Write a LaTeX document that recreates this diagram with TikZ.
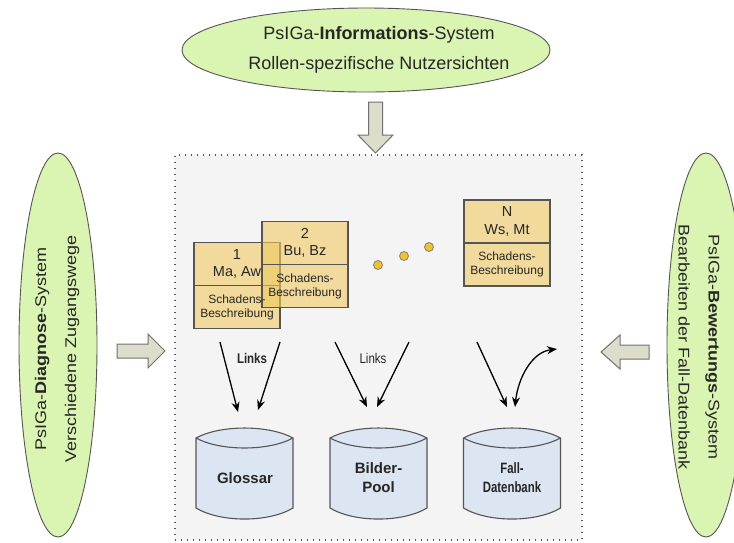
\documentclass[tikz,border=0pt]{standalone}
\usepackage{fontspec}
\setmainfont{Liberation Sans}
\usetikzlibrary{arrows.meta,shapes.geometric}

\definecolor{sysgreen}{HTML}{DAF5B2}
\definecolor{edgegray}{HTML}{555555}
\definecolor{blockfill}{HTML}{DDDDCB}
\definecolor{blockedge}{HTML}{707070}
\definecolor{panelfill}{HTML}{F4F4F4}
\definecolor{cardfill}{HTML}{F0CA60}
\definecolor{dotfill}{HTML}{F2C12E}
\definecolor{drumfill}{HTML}{DCE6F2}
\definecolor{textdark}{HTML}{262626}

% flatten a line of rotated text a little
\newcommand\flatline[1]{\scalebox{1}[0.86]{#1}}

\begin{document}
\begin{tikzpicture}[x=1pt,y=-1pt,
  panel/.style={draw=edgegray, fill=panelfill, line width=1.1pt,
    dash pattern=on 1.1pt off 4.9pt, minimum width=407, minimum height=385,
    inner sep=0pt},
  sysellipse/.style={ellipse, draw=edgegray, fill=sysgreen, line width=0.9pt,
    inner sep=0pt},
  systext/.style={align=center, text=textdark, inner sep=0pt,
    font=\fontsize{18}{30}\selectfont},
  blockarrow/.style={draw=blockedge, fill=blockfill, line width=1pt,
    line join=miter},
  card/.style={draw=edgegray, fill=cardfill, fill opacity=0.6,
    line width=1.1pt, minimum width=86, minimum height=86, inner sep=0pt},
  cardtop/.style={align=center, text=textdark, inner sep=0pt,
    font=\fontsize{14.5}{17.5}\selectfont},
  cardlow/.style={align=center, text=textdark, inner sep=0pt,
    font=\fontsize{12}{14}\selectfont},
  dotmark/.style={circle, draw=gray, fill=dotfill, line width=0.8pt,
    minimum size=9, inner sep=0pt},
  linkarrow/.style={line width=1.3pt, -{Stealth[length=10pt,width=8pt]}},
  linklabel/.style={text=textdark, inner sep=0pt},
  drumtext/.style={align=center, text=textdark, inner sep=0pt,
    font=\fontsize{15}{19}\selectfont\bfseries},
  drum/.pic={
    \path[draw=edgegray, fill=drumfill, line width=1.1pt]
      (-48.5,0) .. controls (-24,-13.3) and (24,-13.3) .. (48.5,0)
      -- (48.5,70) .. controls (24,84.7) and (-24,84.7) .. (-48.5,70) -- cycle;
    \draw[edgegray, line width=1.1pt]
      (-48.5,0) .. controls (-24,13.3) and (24,13.3) .. (48.5,0);
  }]

\useasboundingbox (0,0) rectangle (734,542);

% central dotted panel
\node[panel] (panel) at (378.5,347.5) {};

% the three surrounding systems
\node[sysellipse, minimum width=368, minimum height=84] (info) at (366,50) {};
\node[systext] (infotext) at (379,50)
  {PsIGa-\textbf{Informations}-System\\Rollen-spezifische Nutzersichten};

\node[sysellipse, minimum width=78, minimum height=384] (diag) at (58,345) {};
\node[systext, rotate=90] (diagtext) at (57,349)
  {\flatline{PsIGa-\textbf{Diagnose}-System}\\\flatline{Verschiedene Zugangswege}};

\node[sysellipse, minimum width=78, minimum height=384] (bew) at (706,345) {};
\node[systext, rotate=-90] (bewtext) at (699,347)
  {\flatline{PsIGa-\textbf{Bewertungs}-System}\\\flatline{Bearbeiten der Fall-Datenbank}};

% block arrows into the panel
\draw[blockarrow] (368.5,102) -- (382.5,102) -- (382.5,135) -- (393,135)
  -- (375.5,153) -- (358,135) -- (368.5,135) -- cycle;
\draw[blockarrow] (117,344) -- (148,344) -- (148,334) -- (165,351)
  -- (148,368) -- (148,358) -- (117,358) -- cycle;
\draw[blockarrow] (649,345) -- (620,345) -- (620,335) -- (601,352)
  -- (620,369) -- (620,359) -- (649,359) -- cycle;

% case cards
\node[card] (card1) at (237,285.5) {};
\draw[edgegray, line width=1.1pt] (card1.west) -- (card1.east);
\node[card] (card2) at (305,264.5) {};
\draw[edgegray, line width=1.1pt] (card2.west) -- (card2.east);
\node[card] (cardN) at (507,243) {};
\draw[edgegray, line width=1.1pt] (cardN.west) -- (cardN.east);

\node[cardtop] (card1top) at (237,264) {1\\Ma, Aw};
\node[cardlow] (card1low) at (237,307) {Schadens-\\Beschreibung};
\node[cardtop] (card2top) at (305,243) {2\\Bu, Bz};
\node[cardlow] (card2low) at (305,286) {Schadens-\\Beschreibung};
\node[cardtop] (cardNtop) at (507,221.5) {N\\Ws, Mt};
\node[cardlow] (cardNlow) at (507,264.5) {Schadens-\\Beschreibung};

% ellipsis dots between the cards
\node[dotmark] (dot1) at (378,265) {};
\node[dotmark] (dot2) at (404,256) {};
\node[dotmark] (dot3) at (429,247) {};

% link arrows
\coordinate (g1s) at (220,342);  \coordinate (g1e) at (238,412);
\coordinate (g2s) at (280,342);  \coordinate (g2e) at (258,410);
\coordinate (b1s) at (335,342);  \coordinate (b1e) at (367,407);
\coordinate (b2s) at (409,342);  \coordinate (b2e) at (377,407);
\coordinate (f1s) at (477,342);  \coordinate (f1e) at (507,407);
\coordinate (f2a) at (515,407);  \coordinate (f2b) at (557,349);

\draw[linkarrow] (g1s) -- (g1e);
\draw[linkarrow] (g2s) -- (g2e);
\draw[linkarrow] (b1s) -- (b1e);
\draw[linkarrow] (b2s) -- (b2e);
\draw[linkarrow] (f1s) -- (f1e);
\draw[line width=1.3pt, {Stealth[length=10pt,width=8pt]}-{Stealth[length=10pt,width=8pt]}]
  (f2a) .. controls (518,378) and (532,352) .. (f2b);

\node[linklabel] (links1) at (252,358)
  {\scalebox{0.82}[1]{\fontsize{14}{14}\selectfont\bfseries Links}};
\node[linklabel] (links2) at (373,358)
  {\scalebox{0.82}[1]{\fontsize{14}{14}\selectfont Links}};

% data stores
\pic (glossar) at (244.5,438) {drum};
\pic (bilder) at (378.5,438) {drum};
\pic (fall) at (512,438) {drum};

\node[drumtext] (glossartext) at (245,478) {Glossar};
\node[drumtext] (bildertext) at (378.5,477.5) {Bilder-\\Pool};
\node[drumtext] (falltext) at (512,477.5)
  {\scalebox{0.76}[1]{Fall-}\\\scalebox{0.76}[1]{Datenbank}};

\end{tikzpicture}
\end{document}
